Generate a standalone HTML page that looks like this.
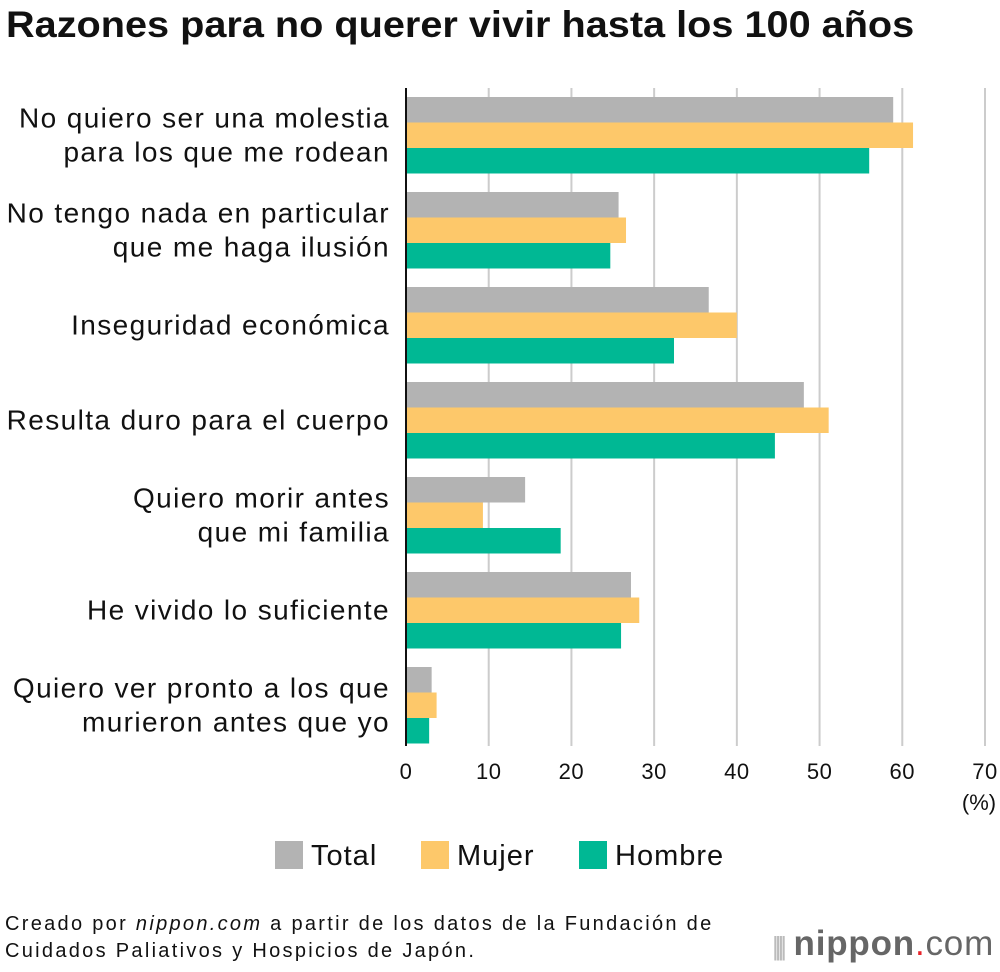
<!DOCTYPE html>
<html><head><meta charset="utf-8"><style>
body{margin:0;width:1000px;height:972px;background:#fff;font-family:"Liberation Sans",sans-serif;color:#111;overflow:hidden;position:relative}
.t{position:absolute}
</style></head><body>
<div class="t" style="left:6px;top:4px;font-size:37px;font-weight:bold;transform:scaleX(1.072);transform-origin:0 0;white-space:nowrap">Razones para no querer vivir hasta los 100 años</div>
<svg id="c" width="1000" height="972" style="position:absolute;left:0;top:0"></svg>
<div class="t" style="left:5px;top:911px;font-size:20px;line-height:27px;letter-spacing:2.3px;white-space:nowrap">Creado por <i>nippon.com</i> a partir de los datos de la Fundación de<br>Cuidados Paliativos y Hospicios de Japón.</div>
<div class="t" style="left:772px;top:924px;font-size:35px;color:#666;letter-spacing:0.8px;white-space:nowrap"><span style="color:#bbb;font-size:26px;letter-spacing:-4px">||||</span> <b>nippon</b><span style="color:#e8242a">.</span>com</div>
<script>
const categories=[["No quiero ser una molestia","para los que me rodean"],["No tengo nada en particular","que me haga ilusión"],["Inseguridad económica"],["Resulta duro para el cuerpo"],["Quiero morir antes","que mi familia"],["He vivido lo suficiente"],["Quiero ver pronto a los que","murieron antes que yo"]];
const totalVals=[58.9,25.7,36.6,48.1,14.4,27.2,3.1];
const mujerVals=[61.3,26.6,40.0,51.1,9.3,28.2,3.7];
const hombreVals=[56.0,24.7,32.4,44.6,18.7,26.0,2.8];
const ticks=[0,10,20,30,40,50,60,70];
const seriesNames=["Total","Mujer","Hombre"];
const colors=["#b3b3b3","#fdc86a","#00b894"];
const NS="http://www.w3.org/2000/svg",svg=document.getElementById("c");
const x0=406,pxPer=(985-406)/70,top0=97,groupH=95,barH=25.5;
const X=v=>x0+v*pxPer;
function mk(t,a){const e=document.createElementNS(NS,t);for(const k in a)e.setAttribute(k,a[k]);svg.appendChild(e);return e;}
ticks.forEach(t=>{
 if(t>0){const g=mk("line",{x1:X(t),x2:X(t),y1:88,y2:746,stroke:"#ccc","stroke-width":2});
 
 }
 const l=mk("text",{x:X(t),y:779,"text-anchor":"middle","font-size":22,"letter-spacing":0.5,fill:"#111"});l.textContent=t;
 
 
});
const pc=mk("text",{x:X(70)-6,y:810,"text-anchor":"middle","font-size":22,fill:"#111"});pc.textContent="(%)";


[totalVals,mujerVals,hombreVals].forEach((vals,s)=>{
 vals.forEach((v,i)=>{
  const r=mk("rect",{x:x0,y:top0+i*groupH+s*barH,width:X(v)-x0,height:barH,fill:colors[s]});
  
  
 });
});
categories.forEach((lines,i)=>{
 const cy=top0+i*groupH+barH*1.5;
 lines.forEach((ln,j)=>{
  const y=cy+9+(j-(lines.length-1)/2)*34;
  const t=mk("text",{x:390,y:y,"text-anchor":"end","font-size":28,"letter-spacing":1.4,fill:"#111"});t.textContent=ln;
  
  
 });
});
const ax=mk("line",{x1:x0,x2:x0,y1:88,y2:746,stroke:"#111","stroke-width":2});


const lx=[275,421,579];
seriesNames.forEach((n,s)=>{
 const r=mk("rect",{x:lx[s],y:841,width:28,height:28,fill:colors[s]});
 
 
 const t=mk("text",{x:lx[s]+36,y:865,"font-size":29,"letter-spacing":1,fill:"#111"});t.textContent=n;
 
 
});
</script>
</body></html>
